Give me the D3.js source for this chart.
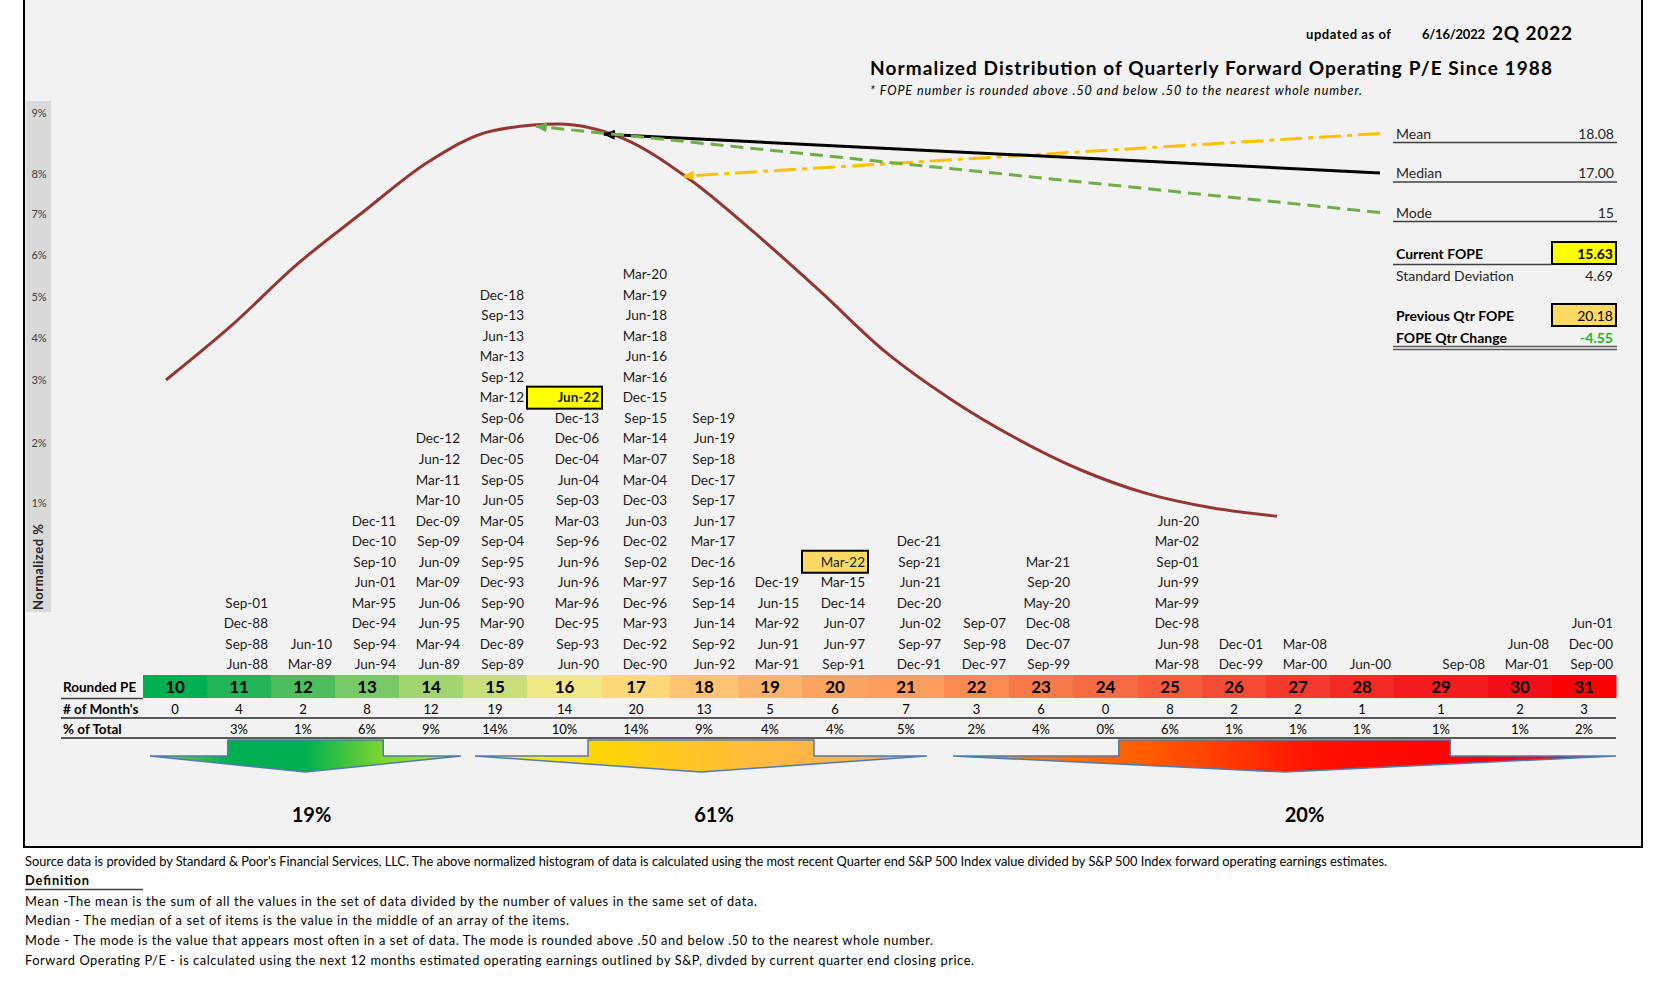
<!DOCTYPE html>
<html><head><meta charset="utf-8">
<script src="https://cdn.jsdelivr.net/npm/d3@7"></script>
<style>
body{margin:0;background:#fff;}
svg{display:block;font-family:Lato,"Open Sans",sans-serif;}
</style>
</head><body>
<svg id="c" width="1656" height="984"></svg>
<script>
// ---------------- DATA ----------------
const peValues = [10,11,12,13,14,15,16,17,18,19,20,21,22,23,24,25,26,27,28,29,30,31];
const monthCounts = [0,4,2,8,12,19,14,20,13,5,6,7,3,6,0,8,2,2,1,1,2,3];
const pctOfTotal = ["","3%","1%","6%","9%","14%","10%","14%","9%","4%","4%","5%","2%","4%","0%","6%","1%","1%","1%","1%","1%","2%"];
const quarters = [
 [],
 ["Jun-88","Sep-88","Dec-88","Sep-01"],
 ["Mar-89","Jun-10"],
 ["Jun-94","Sep-94","Dec-94","Mar-95","Jun-01","Sep-10","Dec-10","Dec-11"],
 ["Jun-89","Mar-94","Jun-95","Jun-06","Mar-09","Jun-09","Sep-09","Dec-09","Mar-10","Mar-11","Jun-12","Dec-12"],
 ["Sep-89","Dec-89","Mar-90","Sep-90","Dec-93","Sep-95","Sep-04","Mar-05","Jun-05","Sep-05","Dec-05","Mar-06","Sep-06","Mar-12","Sep-12","Mar-13","Jun-13","Sep-13","Dec-18"],
 ["Jun-90","Sep-93","Dec-95","Mar-96","Jun-96","Jun-96","Sep-96","Mar-03","Sep-03","Jun-04","Dec-04","Dec-06","Dec-13","Jun-22"],
 ["Dec-90","Dec-92","Mar-93","Dec-96","Mar-97","Sep-02","Dec-02","Jun-03","Dec-03","Mar-04","Mar-07","Mar-14","Sep-15","Dec-15","Mar-16","Jun-16","Mar-18","Jun-18","Mar-19","Mar-20"],
 ["Jun-92","Sep-92","Jun-14","Sep-14","Sep-16","Dec-16","Mar-17","Jun-17","Sep-17","Dec-17","Sep-18","Jun-19","Sep-19"],
 ["Mar-91","Jun-91","Mar-92","Jun-15","Dec-19"],
 ["Sep-91","Jun-97","Jun-07","Dec-14","Mar-15","Mar-22"],
 ["Dec-91","Sep-97","Jun-02","Dec-20","Jun-21","Sep-21","Dec-21"],
 ["Dec-97","Sep-98","Sep-07"],
 ["Sep-99","Dec-07","Dec-08","May-20","Sep-20","Mar-21"],
 [],
 ["Mar-98","Jun-98","Dec-98","Mar-99","Jun-99","Sep-01","Mar-02","Jun-20"],
 ["Dec-99","Dec-01"],
 ["Mar-00","Mar-08"],
 ["Jun-00"],
 ["Sep-08"],
 ["Mar-01","Jun-08"],
 ["Sep-00","Dec-00","Jun-01"]
];
const currentQuarter = "Jun-22";
const previousQuarter = "Mar-22";
const yTickValues = [0.01,0.02,0.03,0.04,0.05,0.06,0.07,0.08,0.09];
const curvePE = [10,11,12,13,14,15,16,17,18,19,20,21,22,23,24,25,26,27];
const curvePct = [0.0300,0.0430,0.0577,0.0703,0.0819,0.0871,0.0882,0.0858,0.0788,0.0655,0.0515,0.0368,0.0270,0.0208,0.0155,0.0116,0.0092,0.0078];
const statLabels = ["Mean","Median","Mode"];
const statValues = ["18.08","17.00","15"];
const statArrowPE = [17.91,16.70,15.66];   // where each annotation arrow meets the curve
const currentFOPE = "15.63", stdDev = "4.69", prevFOPE = "20.18", qtrChange = "-4.55";
const bucketRanges = [[10,14],[15,21],[22,31]];
const bucketLabels = ["19%","61%","20%"];
const footerLines = [
 "Source data is provided by Standard & Poor's Financial Services, LLC.  The above normalized histogram of data is calculated using the most recent Quarter end S&P 500 Index value divided by S&P 500 Index forward operating earnings estimates.",
 "Definition",
 "Mean -The  mean is the sum of all the values in the set of data divided by the number of values in the same set of data.",
 "Median - The median of a set of items is the value in the middle of an array of the items.",
 "Mode - The mode is the value that appears most often in a set of data.  The mode is rounded above .50 and below .50 to the nearest whole number.",
 "Forward Operating P/E - is calculated using the next 12 months estimated operating earnings outlined by S&P, divded by current quarter end closing price."
];

// ---------------- LAYOUT / STYLE ----------------
const colWidths = [64,64,64,64,64,64,75,68,68,64,66,76,65,64,65,64,64,64,64,94,64,64];
const bandColors = ["#00B050","#22B456","#4CBE5E","#78C868","#A2D470","#C8DE78","#F0E884","#FDD879","#FDC36E","#FBB367","#FBA45F",
  "#FA9C5A","#F98B52","#F87A4A","#F76B43","#F65B3B","#F54A33","#F43A2C","#F32A24","#F21B1D","#F10E16","#FF0000"];
const tableLeft = 143;
const lefts = []; { let acc = tableLeft; colWidths.forEach(w => { lefts.push(acc); acc += w; }); }
const xLeft = d3.scaleOrdinal().domain(peValues).range(lefts);
const xWidth = d3.scaleOrdinal().domain(peValues).range(colWidths);
const xCenter = pe => xLeft(pe) + xWidth(pe) / 2;
const xRight = pe => xLeft(pe) + xWidth(pe);

// fake (non-uniform) normalized % axis
const yScale = d3.scaleLinear().domain(yTickValues).range([503,443,380,338,297,255,214,174,113]);
const xCurve = d3.scaleLinear().domain([10,27]).range([166,1277]);
const curveAt = d3.scaleLinear().domain(curvePE).range(curvePct);
const rowY = d3.scaleLinear().domain([0,19]).range([664.3,274.6]);

const svg = d3.select("#c");
const defs = svg.append("defs");

// frame
svg.append("rect").attr("x",24).attr("y",-4).attr("width",1618).attr("height",851)
  .attr("fill","#F2F2F2").attr("stroke","#000").attr("stroke-width",2);

// axis strip
svg.append("rect").attr("x",26).attr("y",101).attr("width",25).attr("height",511).attr("fill","#D9D9D9");
svg.append("g").selectAll("text").data(yTickValues).join("text")
  .attr("x",39).attr("y",d=>yScale(d)+4).attr("text-anchor","middle")
  .attr("font-size",11).attr("fill","#404040").text(d3.format(".0%"));
svg.append("text").attr("transform","translate(42.5,567) rotate(-90)").attr("text-anchor","middle")
  .attr("font-size",13).attr("font-weight","bold").attr("fill","#262626").attr("textLength",86).text("Normalized %");

// header texts
svg.append("text").attr("x",1306).attr("y",39).attr("font-size",13).attr("font-weight","bold").attr("textLength",85).text("updated as of");
svg.append("text").attr("x",1422).attr("y",39).attr("font-size",13).attr("font-weight","bold").attr("textLength",63).text("6/16/2022");
svg.append("text").attr("x",1492).attr("y",40).attr("font-size",19).attr("font-weight","bold").attr("textLength",80).text("2Q 2022");
svg.append("text").attr("x",870).attr("y",75).attr("font-size",19).attr("font-weight","bold").attr("textLength",682).text("Normalized Distribution of Quarterly Forward Operating P/E Since 1988");
svg.append("text").attr("x",870).attr("y",95).attr("font-size",12.5).attr("font-style","italic").attr("textLength",492).text("* FOPE number is rounded above .50 and below .50 to the nearest whole number.");

// curve
const curveData = curvePE.map((p,i)=>({pe:p,v:curvePct[i]}));
svg.append("path").datum(curveData)
  .attr("d", d3.line().x(d=>xCurve(d.pe)).y(d=>yScale(d.v)).curve(d3.curveMonotoneX))
  .attr("fill","none").attr("stroke","#943634").attr("stroke-width",3);

// legend rows & annotation arrows
const legendRowY = d3.scalePoint().domain(statLabels).range([133.5,212.5]);
const statColors = ["#FFC000","#000000","#70AD47"];
const statDash = ["22,6,5,6",null,"13,7"];
statLabels.forEach((s,i)=>{
  const m = defs.append("marker").attr("id","ah"+i).attr("markerUnits","userSpaceOnUse")
    .attr("markerWidth",12).attr("markerHeight",10).attr("refX",11).attr("refY",5).attr("orient","auto");
  m.append("path").attr("d","M0,0 L12,5 L0,10 Z").attr("fill",statColors[i]);
});
statLabels.forEach((s,i)=>{
  const tx = xCurve(statArrowPE[i]), ty = yScale(curveAt(statArrowPE[i]));
  svg.append("line").attr("x1",1380).attr("y1",legendRowY(s)).attr("x2",tx).attr("y2",ty)
    .attr("stroke",statColors[i]).attr("stroke-width",3).attr("stroke-dasharray",statDash[i])
    .attr("marker-end","url(#ah"+i+")");
});
const legendX0 = 1393, legendX1 = 1617;
statLabels.forEach((s,i)=>{
  const y = legendRowY(s);
  svg.append("text").attr("x",1396).attr("y",y+5).attr("font-size",14).attr("fill","#262626").text(s);
  svg.append("text").attr("x",1614).attr("y",y+5).attr("font-size",14).attr("text-anchor","end").attr("fill","#262626").text(statValues[i]);
  svg.append("line").attr("x1",legendX0).attr("x2",legendX1).attr("y1",y+9).attr("y2",y+9).attr("stroke","#404040").attr("stroke-width",1.5);
});
// current / previous
svg.append("rect").attr("x",1552).attr("y",242).attr("width",64).attr("height",22).attr("fill","#FFFF00").attr("stroke","#000").attr("stroke-width",2);
svg.append("text").attr("x",1396).attr("y",258.5).attr("font-size",14).attr("font-weight","bold").text("Current FOPE");
svg.append("text").attr("x",1613).attr("y",258.5).attr("font-size",14).attr("font-weight","bold").attr("text-anchor","end").text(currentFOPE);
svg.append("line").attr("x1",legendX0).attr("x2",1552).attr("y1",264.5).attr("y2",264.5).attr("stroke","#404040").attr("stroke-width",1.5);
svg.append("text").attr("x",1396).attr("y",280.5).attr("font-size",14).attr("fill","#262626").text("Standard Deviation");
svg.append("text").attr("x",1613).attr("y",280.5).attr("font-size",14).attr("text-anchor","end").attr("fill","#262626").text(stdDev);
svg.append("rect").attr("x",1552).attr("y",304).attr("width",64).attr("height",22).attr("fill","#FFD966").attr("stroke","#000").attr("stroke-width",2);
svg.append("text").attr("x",1396).attr("y",320.5).attr("font-size",14).attr("font-weight","bold").text("Previous Qtr FOPE");
svg.append("text").attr("x",1613).attr("y",320.5).attr("font-size",14).attr("text-anchor","end").text(prevFOPE);
svg.append("text").attr("x",1396).attr("y",342.5).attr("font-size",14).attr("font-weight","bold").text("FOPE Qtr Change");
svg.append("text").attr("x",1613).attr("y",342.5).attr("font-size",14).attr("font-weight","bold").attr("text-anchor","end").attr("fill","#22B422").text(qtrChange);
[346.5,349.5].forEach(y=>svg.append("line").attr("x1",legendX0).attr("x2",legendX1).attr("y1",y).attr("y2",y).attr("stroke","#595959").attr("stroke-width",1.3));

// date stacks
const dateG = svg.append("g");
peValues.forEach((pe,ci)=>{
  quarters[ci].forEach((q,ri)=>{
    const y = rowY(ri);
    if (q === currentQuarter || q === previousQuarter) {
      dateG.append("rect").attr("x",xLeft(pe)).attr("y",y-11).attr("width",xWidth(pe)).attr("height",22)
        .attr("fill", q === currentQuarter ? "#FFFF00" : "#FFD966").attr("stroke","#000").attr("stroke-width",2);
    }
    dateG.append("text").attr("x",xRight(pe)-3).attr("y",y+4.8).attr("text-anchor","end")
      .attr("font-size",13.5).attr("fill","#1a1a1a")
      .attr("font-weight", q === currentQuarter ? "bold" : null).text(q);
  });
});

// table
const bandTop = 675, bandH = 23;
svg.append("g").selectAll("rect").data(peValues).join("rect")
  .attr("x",d=>xLeft(d)).attr("y",bandTop).attr("width",d=>xWidth(d)+0.5).attr("height",bandH)
  .attr("fill",(d,i)=>bandColors[i]);
svg.append("g").selectAll("text").data(peValues).join("text")
  .attr("x",d=>xCenter(d)).attr("y",bandTop+17.5).attr("text-anchor","middle")
  .attr("font-size",17).attr("font-weight","bold").attr("fill","#000").text(d=>d);
svg.append("g").selectAll("text").data(monthCounts).join("text")
  .attr("x",(d,i)=>xCenter(peValues[i])).attr("y",713.5).attr("text-anchor","middle")
  .attr("font-size",13).attr("fill","#000").text(d=>d);
svg.append("g").selectAll("text").data(pctOfTotal).join("text")
  .attr("x",(d,i)=>xCenter(peValues[i])).attr("y",733.5).attr("text-anchor","middle")
  .attr("font-size",13).attr("fill","#000").text(d=>d);
svg.append("text").attr("x",63).attr("y",692).attr("font-size",13.5).attr("font-weight","bold").text("Rounded PE");
svg.append("text").attr("x",63).attr("y",713.5).attr("font-size",13.5).attr("font-weight","bold").text("# of Month's");
svg.append("text").attr("x",63).attr("y",733.5).attr("font-size",13.5).attr("font-weight","bold").text("% of Total");
svg.append("line").attr("x1",61).attr("x2",143).attr("y1",698.5).attr("y2",698.5).attr("stroke","#404040").attr("stroke-width",1.5);
[718,738].forEach(y=>svg.append("line").attr("x1",61).attr("x2",1616).attr("y1",y).attr("y2",y).attr("stroke","#595959").attr("stroke-width",2));

// bucket arrows
const gradStops = [
  [[0,"#8FD63A"],[0.25,"#00B050"],[0.5,"#00B050"],[0.75,"#7ED62E"],[1,"#B5E61D"]],
  [[0,"#FFFF20"],[0.25,"#FFD700"],[0.6,"#FFBC3A"],[0.85,"#FFAF50"],[1,"#F4A080"]],
  [[0,"#FF8C00"],[0.3,"#FF5A00"],[0.55,"#FF1000"],[0.8,"#FF0000"],[1,"#F0103C"]]
];
const bucketInsets = [[7,2],[12,17],[9,0]];
const labelOffsets = [6,13,20];
const yTop = 740, yWing = 756, yTip = 772;
bucketRanges.forEach((r,i)=>{
  const g = defs.append("linearGradient").attr("id","bg"+i).attr("x1","0").attr("x2","1").attr("y1","0").attr("y2","0");
  gradStops[i].forEach(s=>g.append("stop").attr("offset",s[0]).attr("stop-color",s[1]));
  const x0 = xLeft(r[0]) + bucketInsets[i][0], x1 = xRight(r[1]) - bucketInsets[i][1];
  const w = x1 - x0, xm = x0 + w/2;
  const pts = [[x0+0.25*w,yTop],[x0+0.75*w,yTop],[x0+0.75*w,yWing],[x1,yWing],[xm,yTip],[x0,yWing],[x0+0.25*w,yWing]];
  svg.append("path").attr("d","M"+pts.map(p=>p.join(",")).join("L")+"Z")
    .attr("fill","url(#bg"+i+")").attr("stroke","#4F7BAF").attr("stroke-width",1.5).attr("stroke-linejoin","miter");
  svg.append("text").attr("x",xm+labelOffsets[i]).attr("y",822).attr("text-anchor","middle")
    .attr("font-size",20).attr("font-weight","bold").attr("fill","#000").text(bucketLabels[i]);
});

// footer
const footerY = [866,885,906,925,945,965];
const footerW = [1362,64,732,544,908,949];
footerLines.forEach((t,i)=>{
  svg.append("text").attr("x",25).attr("y",footerY[i]).attr("font-size",12.8)
    .attr("font-weight", i===1 ? "bold" : null).attr("fill","#000")
    .attr("textLength",footerW[i]).text(t);
});
svg.append("line").attr("x1",25).attr("x2",143).attr("y1",889.5).attr("y2",889.5).attr("stroke","#404040").attr("stroke-width",1.5);
</script>
</body></html>
